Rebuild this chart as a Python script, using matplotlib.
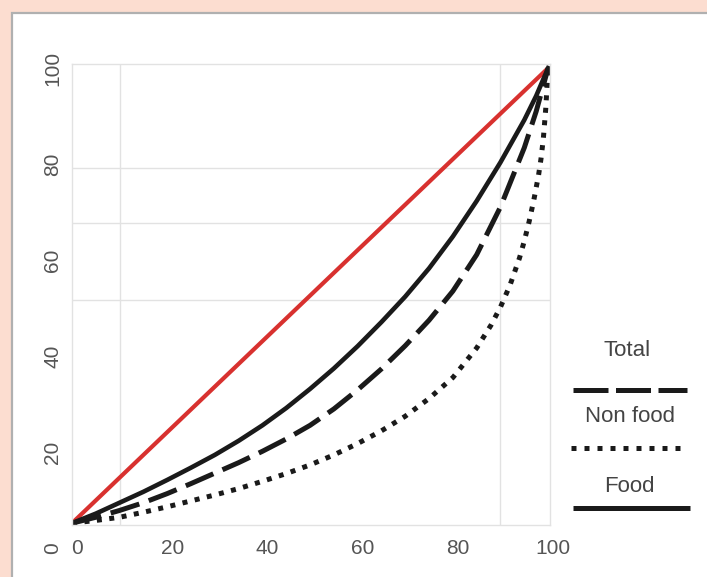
import matplotlib
matplotlib.use("Agg")
import matplotlib.pyplot as plt
from matplotlib.patches import Rectangle
from matplotlib.transforms import blended_transform_factory

plt.rcParams["font.family"] = ["Liberation Sans", "DejaVu Sans"]

# Lorenz curves (% of population vs % of share)
equal_x = [0, 100]
equal_y = [0, 100]

food_x = [0, 5, 10, 15, 20, 25, 30, 35, 40, 45, 50, 55, 60, 65, 70, 75, 80,
          85, 90, 95, 97.5, 100]
food_y = [0, 2.1, 4.5, 6.9, 9.5, 12.2, 15, 18.1, 21.5, 25.3, 29.5, 34, 38.9,
          44.2, 49.8, 56, 63, 70.8, 79.3, 88.6, 93.9, 100]

total_x = [0, 5, 10, 15, 20, 25, 30, 35, 40, 45, 50, 55, 60, 65, 70, 75, 80,
           85, 90, 95, 97.5, 100]
total_y = [0, 1.3, 2.8, 4.5, 6.5, 8.7, 11, 13.3, 15.8, 18.5, 21.5, 25.1, 29.3,
           33.9, 39, 44.6, 51, 59, 69.5, 82.5, 90.5, 100]

nonfood_x = [0, 5, 10, 15, 20, 25, 30, 35, 40, 45, 50, 55, 60, 65, 70, 75, 80,
             85, 88, 90, 92, 94, 95, 96, 97, 98, 98.5, 99, 99.5, 100]
nonfood_y = [0, 0.6, 1.3, 2.4, 3.6, 4.9, 6.2, 7.6, 9.2, 10.9, 12.8, 15, 17.5,
             20.3, 23.5, 27.4, 32, 38.5, 43.5, 47.5, 52.3, 58.3, 62, 66.2, 71,
             76.5, 80, 84.5, 91, 100]

tick_values = [0, 20, 40, 60, 80, 100]
grid_x = [10, 90]
grid_y = [49, 66, 78]
legend_labels = ["Total", "Non food", "Food"]

peach = "#fcddd0"
red = "#d8312f"
ink = "#1a1a1a"
W, H = 707, 577

fig = plt.figure(figsize=(W / 100, H / 100), dpi=100)
fig.patch.set_facecolor(peach)

# white panel with grey border, behind everything
panel = Rectangle((12 / W, -0.05), 1.0, (H - 13) / H + 0.05,
                  transform=fig.transFigure, facecolor="white",
                  edgecolor="#b0b0b0", lw=1.6, zorder=-10)
fig.patches.append(panel)

# main plotting area
ax = fig.add_axes([72 / W, (H - 525) / H, 478 / W, 461 / H])
ax.patch.set_alpha(0)
ax.set_xlim(0, 100.4)
ax.set_ylim(-0.4, 100.9)
for s in ax.spines.values():
    s.set_color("#e2e2e2")
    s.set_linewidth(1)
ax.set_xticks([])
ax.set_yticks([])
for gx in grid_x:
    ax.axvline(gx, color="#e2e2e2", lw=1, zorder=0)
for gy in grid_y:
    ax.axhline(gy, color="#e2e2e2", lw=1, zorder=0)

ax.plot(equal_x, equal_y, color=red, lw=3.0, solid_capstyle="butt")
ax.plot(food_x, food_y, color=ink, lw=3.3, solid_joinstyle="round")
ax.plot(total_x, total_y, color=ink, lw=3.6, linestyle=(0, (6, 2)),
        dash_capstyle="butt", dash_joinstyle="round")
ax.plot(nonfood_x, nonfood_y, color=ink, lw=3.6, linestyle=(0, (1, 1.5)),
        dash_capstyle="butt", dash_joinstyle="round")

# tick labels sit on their own scale, offset from the data
lab = fig.add_axes([77 / W, (H - 548) / H, (553 - 77) / W, (548 - 68) / H])
lab.set_xlim(0, 100)
lab.set_ylim(0, 100)
lab.axis("off")
ytrans = blended_transform_factory(fig.transFigure, lab.transData)
for v in tick_values:
    lab.text(v, 0, str(v), ha="center", va="center", fontsize=15,
             color="#555555")
    lab.text(53 / W, v, str(v), ha="center", va="center", fontsize=15,
             color="#555555", rotation=90, transform=ytrans)

# legend: label above its line sample
leg = fig.add_axes([0, 0, 1, 1])
leg.set_xlim(0, W)
leg.set_ylim(H, 0)
leg.axis("off")
leg.text(627, 350, legend_labels[0], ha="center", va="center", fontsize=16,
         color="#444444")
leg.plot([573, 687], [390, 390], color=ink, lw=3.6, linestyle=(0, (7, 1.5)),
         dash_capstyle="butt")
leg.text(630, 417, legend_labels[1], ha="center", va="center", fontsize=16,
         color="#444444")
leg.plot([571, 686], [448, 448], color=ink, lw=3.6, linestyle=(0, (1, 1.6)),
         dash_capstyle="butt")
leg.text(629, 487, legend_labels[2], ha="center", va="center", fontsize=16,
         color="#444444")
leg.plot([573, 690], [508, 508], color=ink, lw=3.6, solid_capstyle="butt")

fig.savefig("out.png", dpi=100, facecolor=peach)
